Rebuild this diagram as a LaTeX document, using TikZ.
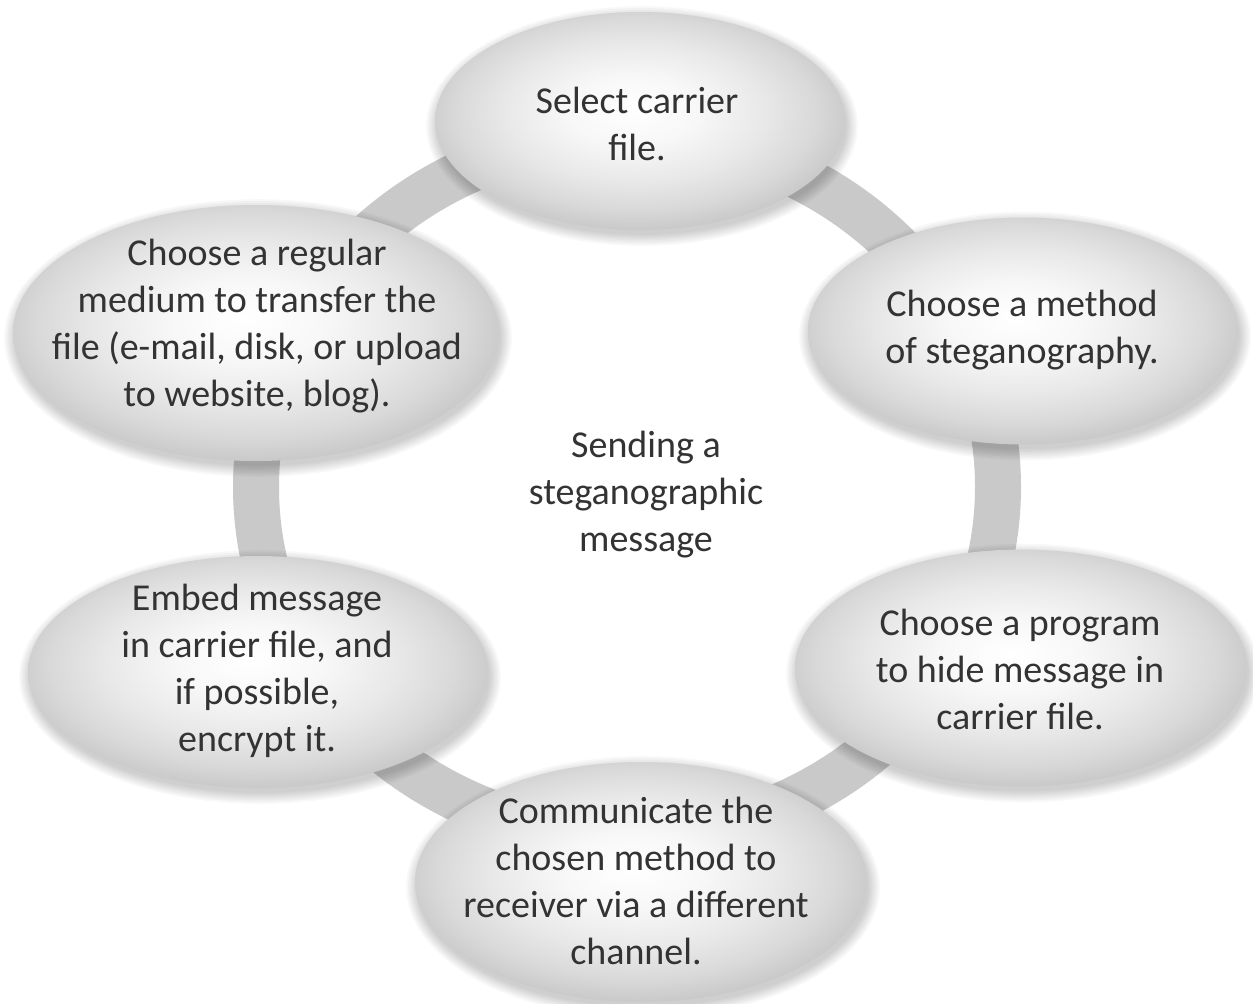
\documentclass[tikz,border=0pt]{standalone}
\usepackage{fontspec}
\setmainfont{Carlito}
\usetikzlibrary{shapes.geometric}
\pgfdeclareradialshading{bubbleshade}{\pgfpoint{-1bp}{3bp}}{%
  color(0bp)=(white);
  color(8bp)=(white!97!black);
  color(16bp)=(white!91!black);
  color(22bp)=(white!85!black);
  color(27bp)=(white!78!black);
  color(50bp)=(white!78!black)}
\tikzset{
  bubble/.style={ellipse, draw=none, inner sep=0pt, shading=bubbleshade},
  softlayer/.style={fill=black, fill opacity=0.028, draw=none},
  bubbletext/.style={align=center, text=black!80, inner sep=0pt,
    font=\fontsize{38}{47}\selectfont},
  ringband/.style={draw=black!21, line width=46pt}
}
\begin{document}
\begin{tikzpicture}[x=1pt, y=-1pt]
\useasboundingbox[fill=white] (0,0) rectangle (1253,1004);
% ring behind the bubbles
\coordinate (ringc) at (627,487);
\draw[ringband] (ringc) ellipse [x radius=371, y radius=350];
% soft shadows under the bubbles
\foreach \cx/\cy/\rx/\ry in {640/121/205/109, 1023/331/215/113.5, 1021/668/226/118.5,
                            641/882/226/120, 258/672/230/116, 256/333/243/128}{
  \foreach \k in {0,...,6}{
    \fill[softlayer] (\cx+2,\cy+5) ellipse [x radius=\rx+1.8*\k, y radius=\ry+1.8*\k];
  }
}
% bubbles
\node[bubble, minimum width=410pt, minimum height=218pt] (b1) at (640,121) {};
\node[bubble, minimum width=430pt, minimum height=227pt] (b2) at (1023,331) {};
\node[bubble, minimum width=452pt, minimum height=237pt] (b3) at (1021,668) {};
\node[bubble, minimum width=452pt, minimum height=240pt] (b4) at (641,882) {};
\node[bubble, minimum width=460pt, minimum height=232pt] (b5) at (258,672) {};
\node[bubble, minimum width=486pt, minimum height=256pt] (b6) at (256,333) {};
% texts
\node[bubbletext] (t1) at (637,124) {Select carrier\\file.};
\node[bubbletext] (t2) at (1022,330) {Choose a method\\of steganography.};
\node[bubbletext] (t3) at (1020,669) {Choose a program\\to hide message in\\carrier file.};
\node[bubbletext] (t4) at (636,881) {Communicate the\\chosen method to\\receiver via a different\\channel.};
\node[bubbletext] (t5) at (257,671) {Embed message\\in carrier file, and\\if possible,\\encrypt it.};
\node[bubbletext] (t6) at (257,326) {Choose a regular\\medium to transfer the\\file (e-mail, disk, or upload\\to website, blog).};
\node[bubbletext] (tc) at (646,495) {Sending a\\steganographic\\message};
\end{tikzpicture}
\end{document}
